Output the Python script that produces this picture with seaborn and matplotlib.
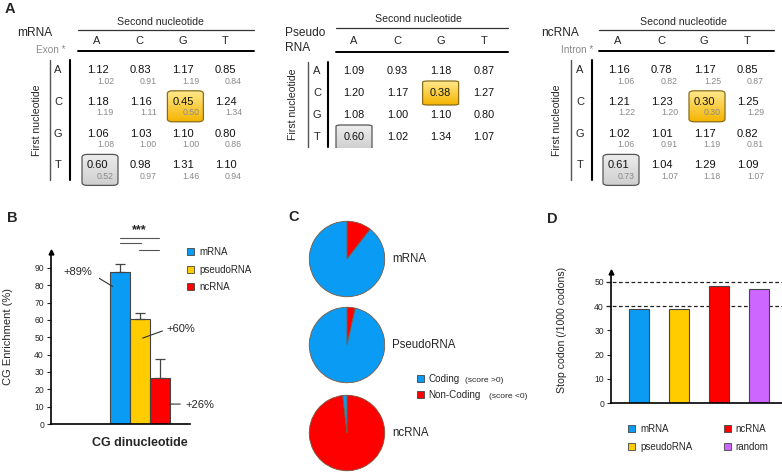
import numpy as np
import pandas as pd
import matplotlib
matplotlib.use("Agg")
import matplotlib.pyplot as plt
import matplotlib.transforms as mtransforms
from matplotlib.patches import FancyBboxPatch, Patch
from matplotlib.lines import Line2D
from matplotlib.colors import LinearSegmentedColormap
import seaborn as sns

sns.set_style("white")
plt.rcParams['font.family'] = ['Liberation Sans', 'DejaVu Sans']

# ---------------- data ----------------
nts = ['A', 'C', 'G', 'T']
mrna_ratio = [[1.12, 0.83, 1.17, 0.85],
              [1.18, 1.16, 0.45, 1.24],
              [1.06, 1.03, 1.10, 0.80],
              [0.60, 0.98, 1.31, 1.10]]
exon_ratio = [[1.02, 0.91, 1.19, 0.84],
              [1.19, 1.11, 0.50, 1.34],
              [1.08, 1.00, 1.00, 0.86],
              [0.52, 0.97, 1.46, 0.94]]
pseudo_ratio = [[1.09, 0.93, 1.18, 0.87],
                [1.20, 1.17, 0.38, 1.27],
                [1.08, 1.00, 1.10, 0.80],
                [0.60, 1.02, 1.34, 1.07]]
ncrna_ratio = [[1.16, 0.78, 1.17, 0.85],
               [1.21, 1.23, 0.30, 1.25],
               [1.02, 1.01, 1.17, 0.82],
               [0.61, 1.04, 1.29, 1.09]]
intron_ratio = [[1.06, 0.82, 1.25, 0.87],
                [1.22, 1.20, 0.30, 1.29],
                [1.06, 0.91, 1.19, 0.81],
                [0.73, 1.07, 1.18, 1.07]]
highlight_cg = (1, 2)   # row C, col G
highlight_ta = (3, 0)   # row T, col A

b_groups = ['mRNA', 'pseudoRNA', 'ncRNA']
b_values = [87.7, 60.3, 26.8]
b_err = [4.5, 4.0, 10.8]
b_labels = ['+89%', '+60%', '+26%']

c_names = ['mRNA', 'PseudoRNA', 'ncRNA']
c_coding = [89.5, 96.5, 1.8]
c_noncoding = [10.5, 3.5, 98.2]

d_groups = ['mRNA', 'pseudoRNA', 'ncRNA', 'random']
d_values = [38.9, 38.8, 48.4, 47.0]
d_refs = [40, 50]

BLUE, YELLOW, RED, PURPLE = '#0A9BF5', '#FFCC00', '#FF0000', '#CC66FF'
b_colors = [BLUE, YELLOW, RED]
d_colors = [BLUE, YELLOW, RED, PURPLE]

# ---------------- figure ----------------
W, H = 782, 473
fig = plt.figure(figsize=(W / 100, H / 100), dpi=100)
PX = mtransforms.Affine2D().scale(1 / W, -1 / H).translate(0, 1) + fig.transFigure


def rect(x0, y0, x1, y1):
    return [x0 / W, 1 - y1 / H, (x1 - x0) / W, (y1 - y0) / H]


GRAY_TXT = '#8a8a8a'


def draw_table(main, sub, c0, sc, r0, sr, title_lines, sub_label, xl, xr,
               y_top, y_mid, vx1, vx2, vy0, vy1, rowlab_x, first_x, title_xy,
               second_x, second_y, sub_xy=None, single=False):
    ax = fig.add_axes(rect(c0 - sc / 2, r0 - sr / 2, c0 + 3.5 * sc, r0 + 3.5 * sr))
    ax.axis('off')
    bw, bh = (36 / sc, 31 / sr) if not single else (36 / sc, 24 / sr)
    for (r, c), (fc_top, fc_bot, ec) in [(highlight_cg, ('#FFE88A', '#F5B400', '#8a6d1a')),
                                         (highlight_ta, ('#EDEDED', '#CFCFCF', '#555555'))]:
        xc = c + (3 / sc if not single else 0)
        yc = r - (1 / sr if not single else 0)
        patch = FancyBboxPatch((xc - bw / 2, yc - bh / 2), bw, bh,
                               boxstyle="round,pad=0,rounding_size=0.12",
                               fc='none', ec=ec, lw=0.9, zorder=3,
                               mutation_aspect=sr / sc)
        ax.add_patch(patch)
        grad = np.linspace(0, 1, 50).reshape(-1, 1)
        cm = LinearSegmentedColormap.from_list('g', [fc_top, fc_bot])
        im = ax.imshow(grad, cmap=cm, aspect='auto',
                       extent=(xc - bw / 2, xc + bw / 2, yc + bh / 2, yc - bh / 2),
                       zorder=2, interpolation='bilinear')
        im.set_clip_path(patch)
    ax.set_xlim(-0.5, 3.5)
    ax.set_ylim(3.5, -0.5)
    for r in range(4):
        for c in range(4):
            if single:
                ax.text(c, r, f"{main[r][c]:.2f}", ha='center', va='center',
                        fontsize=7.8, color='#111111', zorder=5)
            else:
                t1 = mtransforms.offset_copy(ax.transData, fig, x=-10, y=5.5, units='dots')
                t2 = mtransforms.offset_copy(ax.transData, fig, x=17, y=-5.5, units='dots')
                ax.text(c, r, f"{main[r][c]:.2f}", ha='left', va='center',
                        fontsize=8, color='#111111', transform=t1, zorder=5)
                ax.text(c, r, f"{sub[r][c]:.2f}", ha='right', va='center',
                        fontsize=6.3, color=GRAY_TXT, transform=t2, zorder=5)
    th = mtransforms.blended_transform_factory(ax.transData, PX)
    for c, n in enumerate(nts):
        ax.text(c, (y_top + y_mid) / 2 + 1, n, ha='center', va='center',
                fontsize=8, transform=th)
    for r, n in enumerate(nts):
        tr = mtransforms.offset_copy(ax.transData, fig, x=0,
                                     y=(5.5 if not single else 0), units='dots')
        trr = mtransforms.blended_transform_factory(PX, tr)
        ax.text(rowlab_x, r, n, ha='center', va='center', fontsize=8, transform=trr)
    fig.add_artist(Line2D([xl, xr], [y_top, y_top], lw=0.9, color='#333333', transform=PX))
    fig.add_artist(Line2D([xl, xr], [y_mid, y_mid], lw=1.4, color='black', transform=PX))
    fig.add_artist(Line2D([vx1, vx1], [vy0, vy1], lw=1.0, color='#555555', transform=PX))
    fig.add_artist(Line2D([vx2, vx2], [vy0, vy1], lw=1.5, color='black', transform=PX))
    fig.text(second_x, second_y, 'Second nucleotide', ha='center', va='center',
             fontsize=7.6, transform=PX)
    fig.text(first_x, (vy0 + vy1) / 2, 'First nucleotide', ha='center', va='center',
             rotation=90, fontsize=7.6, transform=PX)
    if len(title_lines) == 1:
        fig.text(title_xy[0], title_xy[1], title_lines[0], ha='center', va='center',
                 fontsize=8.6, transform=PX)
    else:
        fig.text(title_xy[0], title_xy[1], title_lines[0], ha='left', va='center',
                 fontsize=8.6, transform=PX)
        fig.text(title_xy[0], title_xy[1] + 15, title_lines[1], ha='left', va='center',
                 fontsize=8.6, transform=PX)
    if sub_label:
        fig.text(sub_xy[0], sub_xy[1], sub_label, ha='right', va='center',
                 fontsize=7.2, color=GRAY_TXT, transform=PX)
    return ax


draw_table(mrna_ratio, exon_ratio, 97, 42.7, 75.5, 31.8, ['mRNA'], 'Exon *',
           78, 254, 30, 51, 50, 70, 60, 180, 58, 37, (35, 33), 160, 22, sub_xy=(66, 50))
draw_table(pseudo_ratio, None, 354, 43.3, 71, 22, ['Pseudo', 'RNA'], None,
           336, 508, 28, 52, 308, 328, 62, 147, 317, 293, (285, 33), 418, 19, single=True)
draw_table(ncrna_ratio, intron_ratio, 618, 43, 75.5, 31.8, ['ncRNA'], 'Intron *',
           599, 774, 30, 51, 571, 592, 60, 180, 580, 557, (560, 33), 683, 22, sub_xy=(593, 50))

for lab, (x, y) in {'A': (5, 9), 'B': (7, 218), 'C': (288, 217), 'D': (547, 219)}.items():
    fig.text(x, y, lab, ha='left', va='center', fontsize=10.5, fontweight='bold', transform=PX)

# ---------------- panel B ----------------
axB = fig.add_axes(rect(51, 252, 190, 424))
dfB = pd.DataFrame({'group': b_groups, 'value': b_values})
sns.barplot(data=dfB, x='group', y='value', hue='group', palette=b_colors, saturation=1,
            width=1.0, edgecolor='#444444', linewidth=0.8, legend=False, ax=axB,
            errorbar=None)
axB.errorbar(range(3), b_values, yerr=[[0, 0, 0], b_err], fmt='none',
             ecolor='#444444', elinewidth=0.9, capsize=3.6, capthick=0.9)
axB.set_xlim(-3.45, 3.5)
axB.set_ylim(0, 99.2)
axB.set_yticks(range(0, 91, 10))
axB.set_xticks([])
axB.set_xlabel('')
axB.set_ylabel('CG Enrichment (%)', fontsize=8)
axB.yaxis.set_label_coords(-0.27, 0.506)
for s in ['top', 'right']:
    axB.spines[s].set_visible(False)
for s in ['left', 'bottom']:
    axB.spines[s].set_linewidth(1.2)
    axB.spines[s].set_color('black')
axB.tick_params(axis='y', length=3, width=0.8, labelsize=6.2, pad=2, left=True, direction='out')
axB.plot([0], [1], marker='^', ms=3.5, color='black', transform=axB.transAxes, clip_on=False)
ann = [((-2.1, 87.5), (-1.15, 84.8), (-0.25, 78.5)),
       ((3.05, 55.0), (2.25, 54.2), (1.0, 49.0)),
       ((4.0, 11.0), (3.15, 11.5), (2.35, 11.5))]
for lab, (txt, p0, p1) in zip(b_labels, ann):
    axB.annotate('', xy=p1, xytext=p0, arrowprops=dict(arrowstyle='-', color='#333333', lw=0.8),
                 annotation_clip=False)
    axB.text(txt[0], txt[1], lab, ha='center', va='center', fontsize=8, clip_on=False)
for (x0, x1, y) in [(0, 1.95, 107.3), (0, 1.05, 104.4), (0.95, 1.95, 100.4)]:
    axB.plot([x0, x1], [y, y], color='#555555', lw=0.8, clip_on=False)
axB.text(0.95, 112.0, '***', ha='center', va='center', fontsize=9, fontweight='bold',
         clip_on=False)
fig.text(140, 443, 'CG dinucleotide', ha='center', va='center', fontsize=9,
         fontweight='bold', transform=PX)
hB = [Patch(fc=c, ec='#444444', lw=0.6) for c in b_colors]
axB.legend(hB, b_groups, loc='upper left', bbox_to_anchor=(187, 247), bbox_transform=PX,
           frameon=False, fontsize=7, handlelength=0.75, handleheight=0.75,
           handletextpad=0.5, labelspacing=0.78, borderpad=0, borderaxespad=0)

# ---------------- panel C ----------------
cy = [259, 345, 433]
for name, cod, non, y in zip(c_names, c_coding, c_noncoding, cy):
    axc = fig.add_axes(rect(347 - 38.5, y - 38.5, 347 + 38.5, y + 38.5))
    axc.pie([non, cod], colors=[RED, BLUE], startangle=90, counterclock=False,
            wedgeprops=dict(edgecolor='#7a5a40', linewidth=0.6))
    axc.set_xlim(-1.02, 1.02)
    axc.set_ylim(-1.02, 1.02)
    axc.set_aspect('equal')
    fig.text(392, y, name, ha='left', va='center', fontsize=8.3, transform=PX)
hC = [Patch(fc=BLUE, ec='#444444', lw=0.6), Patch(fc=RED, ec='#444444', lw=0.6)]
fig.legend(hC, ['Coding', 'Non-Coding'], loc='upper left', bbox_to_anchor=(417, 374),
           bbox_transform=PX, frameon=False, fontsize=7.1, handlelength=0.75,
           handleheight=0.75, handletextpad=0.4, labelspacing=0.62, borderpad=0,
           borderaxespad=0)
fig.text(465, 380, '(score >0)', ha='left', va='center', fontsize=6.1, transform=PX)
fig.text(489, 396, '(score <0)', ha='left', va='center', fontsize=6.1, transform=PX)

# ---------------- panel D ----------------
axD = fig.add_axes(rect(611, 272, 782, 403))
dfD = pd.DataFrame({'group': d_groups, 'value': d_values})
sns.barplot(data=dfD, x='group', y='value', hue='group', palette=d_colors, saturation=1,
            width=0.5, edgecolor='#444444', linewidth=0.8, legend=False, ax=axD,
            errorbar=None)
axD.set_xlim(-0.7, 3.575)
axD.set_ylim(0, 54.1)
axD.set_yticks(range(0, 51, 10))
axD.set_xticks([])
axD.set_xlabel('')
axD.set_ylabel('Stop codon (/1000 codons)', fontsize=7.6)
axD.yaxis.set_label_coords(-0.257, 0.557)
for s in ['top', 'right']:
    axD.spines[s].set_visible(False)
for s in ['left', 'bottom']:
    axD.spines[s].set_linewidth(1.2)
    axD.spines[s].set_color('black')
axD.tick_params(axis='y', length=3, width=0.8, labelsize=6.2, pad=2, left=True, direction='out')
axD.plot([0], [1], marker='^', ms=3.5, color='black', transform=axD.transAxes, clip_on=False)
for yref in d_refs:
    axD.axhline(yref, xmin=-0.03, xmax=1, color='#222222', lw=0.9, ls=(0, (3, 2)),
                clip_on=False, zorder=0.5)
hD = [Patch(fc=c, ec='#444444', lw=0.6) for c in d_colors]
axD.legend(hD, d_groups, loc='upper left', bbox_to_anchor=(628, 424), bbox_transform=PX,
           ncol=2, frameon=False, fontsize=7, handlelength=0.75, handleheight=0.75,
           handletextpad=0.5, labelspacing=0.85, columnspacing=3.2, borderpad=0,
           borderaxespad=0)

fig.savefig('out.png', dpi=100)
